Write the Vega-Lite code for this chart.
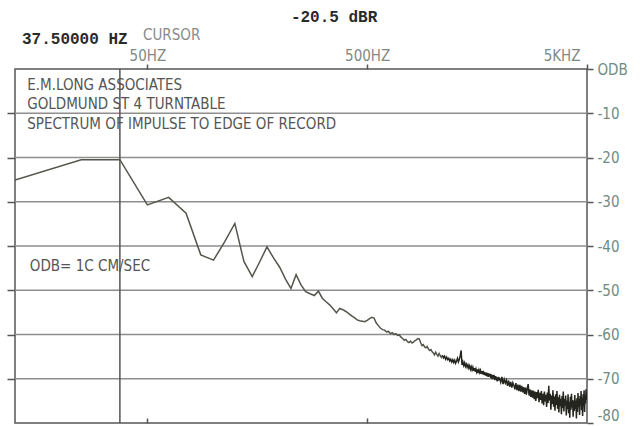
{
  "$schema": "https://vega.github.io/schema/vega-lite/v6.json",
  "width": 572,
  "height": 354,
  "autosize": "none",
  "padding": {"left": 15, "top": 69, "right": 53, "bottom": 3},
  "background": "white",
  "config": {"view": {"stroke": "#555555", "strokeWidth": 1.5}},
  "datasets": {
    "grid": [{"g": -10}, {"g": -20}, {"g": -30}, {"g": -40}, {"g": -50}, {"g": -60}, {"g": -70}],
    "cur": [{"c": 37.5}],
    "spec": [
      {"f": 12.5, "db": -25.1}, {"f": 25, "db": -20.5}, {"f": 37.5, "db": -20.5}, {"f": 50, "db": -30.7},
      {"f": 62.5, "db": -29.0}, {"f": 75, "db": -32.6}, {"f": 87.5, "db": -42.0}, {"f": 100, "db": -43.2},
      {"f": 112.5, "db": -39.0}, {"f": 125, "db": -34.9}, {"f": 137.5, "db": -43.5}, {"f": 150, "db": -46.9},
      {"f": 162.5, "db": -43.5}, {"f": 175, "db": -40.2}, {"f": 187.5, "db": -42.7}, {"f": 200, "db": -44.8},
      {"f": 212.5, "db": -47.5}, {"f": 225, "db": -49.6}, {"f": 237.5, "db": -46.5}, {"f": 250, "db": -48.8},
      {"f": 262.5, "db": -50.3}, {"f": 275, "db": -50.8}, {"f": 287.5, "db": -51.2}, {"f": 300, "db": -50.2},
      {"f": 312.5, "db": -51.8}, {"f": 325, "db": -52.6}, {"f": 337.5, "db": -53.3}, {"f": 350, "db": -54.2},
      {"f": 362.5, "db": -55.1}, {"f": 375, "db": -54.1}, {"f": 387.5, "db": -54.4}, {"f": 400, "db": -54.8},
      {"f": 412.5, "db": -55.3}, {"f": 425, "db": -55.8}, {"f": 437.5, "db": -56.2}, {"f": 450, "db": -56.7},
      {"f": 462.5, "db": -56.9}, {"f": 475, "db": -57.0}, {"f": 487.5, "db": -57.1}, {"f": 500, "db": -56.8},
      {"f": 512.5, "db": -56.4}, {"f": 525, "db": -56.1}, {"f": 537.5, "db": -56.3}, {"f": 550, "db": -57.4},
      {"f": 562.5, "db": -58.0}, {"f": 575, "db": -58.6}, {"f": 587.5, "db": -58.9}, {"f": 600, "db": -59.0},
      {"f": 612.5, "db": -59.4}, {"f": 625, "db": -59.3}, {"f": 637.5, "db": -59.8}, {"f": 650, "db": -59.6},
      {"f": 662.5, "db": -60.0}, {"f": 675, "db": -59.8}, {"f": 687.5, "db": -60.2}, {"f": 700, "db": -60.1},
      {"f": 712.5, "db": -60.6}, {"f": 725, "db": -60.9}, {"f": 737.5, "db": -61.3}, {"f": 750, "db": -61.1},
      {"f": 762.5, "db": -61.6}, {"f": 775, "db": -61.8}, {"f": 787.5, "db": -61.5}, {"f": 800, "db": -61.9},
      {"f": 812.5, "db": -61.7}, {"f": 825, "db": -61.4}, {"f": 837.5, "db": -61.2}, {"f": 850, "db": -60.9},
      {"f": 862.5, "db": -61.0}, {"f": 875, "db": -61.8}, {"f": 887.5, "db": -62.5}, {"f": 900, "db": -62.3},
      {"f": 912.5, "db": -62.8}, {"f": 925, "db": -63.0}, {"f": 937.5, "db": -62.7}, {"f": 950, "db": -63.3},
      {"f": 962.5, "db": -63.6}, {"f": 975, "db": -63.4}, {"f": 987.5, "db": -63.9}, {"f": 1000, "db": -64.2},
      {"f": 1012.5, "db": -64.6}, {"f": 1025, "db": -64.0}, {"f": 1037.5, "db": -64.5}, {"f": 1050, "db": -64.9},
      {"f": 1062.5, "db": -64.3}, {"f": 1075, "db": -64.8}, {"f": 1087.5, "db": -65.2}, {"f": 1100, "db": -64.7},
      {"f": 1112.5, "db": -65.3}, {"f": 1125, "db": -64.9}, {"f": 1137.5, "db": -65.6}, {"f": 1150, "db": -65.1},
      {"f": 1162.5, "db": -65.7}, {"f": 1175, "db": -65.4}, {"f": 1187.5, "db": -66.0}, {"f": 1200, "db": -65.6},
      {"f": 1212.5, "db": -66.2}, {"f": 1225, "db": -65.7}, {"f": 1237.5, "db": -66.3}, {"f": 1250, "db": -65.8},
      {"f": 1262.5, "db": -66.5}, {"f": 1275, "db": -66.0}, {"f": 1287.5, "db": -65.4}, {"f": 1300, "db": -66.2},
      {"f": 1312.5, "db": -65.6}, {"f": 1325, "db": -64.8}, {"f": 1337.5, "db": -63.6}, {"f": 1350, "db": -66.9},
      {"f": 1362.5, "db": -66.2}, {"f": 1375, "db": -67.0}, {"f": 1387.5, "db": -66.4}, {"f": 1400, "db": -67.2},
      {"f": 1412.5, "db": -66.7}, {"f": 1425, "db": -67.4}, {"f": 1437.5, "db": -66.9}, {"f": 1450, "db": -67.6},
      {"f": 1462.5, "db": -67.1}, {"f": 1475, "db": -67.9}, {"f": 1487.5, "db": -67.3}, {"f": 1500, "db": -68.0},
      {"f": 1512.5, "db": -67.4}, {"f": 1525, "db": -68.2}, {"f": 1537.5, "db": -67.6}, {"f": 1550, "db": -68.4},
      {"f": 1562.5, "db": -67.8}, {"f": 1575, "db": -68.5}, {"f": 1587.5, "db": -67.9}, {"f": 1600, "db": -68.7},
      {"f": 1612.5, "db": -68.0}, {"f": 1625, "db": -68.6}, {"f": 1637.5, "db": -68.1}, {"f": 1650, "db": -68.9},
      {"f": 1662.5, "db": -68.3}, {"f": 1675, "db": -69.0}, {"f": 1687.5, "db": -68.2}, {"f": 1700, "db": -69.1},
      {"f": 1712.5, "db": -68.5}, {"f": 1725, "db": -69.3}, {"f": 1737.5, "db": -68.6}, {"f": 1750, "db": -69.4},
      {"f": 1762.5, "db": -68.7}, {"f": 1775, "db": -69.6}, {"f": 1787.5, "db": -68.8}, {"f": 1800, "db": -69.5},
      {"f": 1812.5, "db": -68.9}, {"f": 1825, "db": -69.8}, {"f": 1837.5, "db": -69.0}, {"f": 1850, "db": -70.1},
      {"f": 1862.5, "db": -69.2}, {"f": 1875, "db": -69.9}, {"f": 1887.5, "db": -69.1}, {"f": 1900, "db": -70.3},
      {"f": 1912.5, "db": -69.4}, {"f": 1925, "db": -70.2}, {"f": 1937.5, "db": -69.5}, {"f": 1950, "db": -70.6},
      {"f": 1962.5, "db": -69.7}, {"f": 1975, "db": -70.4}, {"f": 1987.5, "db": -69.8}, {"f": 2000, "db": -69.9},
      {"f": 2025, "db": -70.8}, {"f": 2050, "db": -69.6}, {"f": 2075, "db": -71.2}, {"f": 2100, "db": -70.1},
      {"f": 2125, "db": -71.0}, {"f": 2150, "db": -70.3}, {"f": 2175, "db": -71.6}, {"f": 2200, "db": -70.4},
      {"f": 2225, "db": -71.8}, {"f": 2250, "db": -70.7}, {"f": 2275, "db": -72.0}, {"f": 2300, "db": -70.9},
      {"f": 2325, "db": -71.5}, {"f": 2350, "db": -72.4}, {"f": 2375, "db": -71.0}, {"f": 2400, "db": -72.6},
      {"f": 2425, "db": -71.3}, {"f": 2450, "db": -72.8}, {"f": 2475, "db": -71.4}, {"f": 2500, "db": -72.9},
      {"f": 2525, "db": -71.6}, {"f": 2550, "db": -73.1}, {"f": 2575, "db": -71.9}, {"f": 2600, "db": -73.4},
      {"f": 2625, "db": -72.0}, {"f": 2650, "db": -73.6}, {"f": 2675, "db": -72.2}, {"f": 2700, "db": -71.2},
      {"f": 2725, "db": -73.8}, {"f": 2750, "db": -72.4}, {"f": 2775, "db": -74.1}, {"f": 2800, "db": -72.6},
      {"f": 2825, "db": -74.3}, {"f": 2850, "db": -72.7}, {"f": 2875, "db": -74.6}, {"f": 2900, "db": -72.9},
      {"f": 2925, "db": -75.0}, {"f": 2950, "db": -73.0}, {"f": 2975, "db": -74.4}, {"f": 3000, "db": -72.5},
      {"f": 3025, "db": -75.3}, {"f": 3050, "db": -73.2}, {"f": 3075, "db": -74.8}, {"f": 3100, "db": -72.8},
      {"f": 3125, "db": -75.6}, {"f": 3150, "db": -73.4}, {"f": 3175, "db": -76.0}, {"f": 3200, "db": -72.9},
      {"f": 3225, "db": -75.1}, {"f": 3250, "db": -73.6}, {"f": 3275, "db": -76.4}, {"f": 3300, "db": -73.1},
      {"f": 3325, "db": -75.5}, {"f": 3350, "db": -71.6}, {"f": 3375, "db": -74.9}, {"f": 3400, "db": -73.4},
      {"f": 3425, "db": -77.0}, {"f": 3450, "db": -73.8}, {"f": 3475, "db": -75.7}, {"f": 3500, "db": -72.6},
      {"f": 3525, "db": -76.3}, {"f": 3550, "db": -74.0}, {"f": 3575, "db": -77.2}, {"f": 3600, "db": -73.5},
      {"f": 3625, "db": -75.9}, {"f": 3650, "db": -72.8}, {"f": 3675, "db": -76.8}, {"f": 3700, "db": -74.2},
      {"f": 3725, "db": -77.6}, {"f": 3750, "db": -73.6}, {"f": 3775, "db": -76.2}, {"f": 3800, "db": -74.5},
      {"f": 3825, "db": -78.0}, {"f": 3850, "db": -73.9}, {"f": 3875, "db": -76.6}, {"f": 3900, "db": -72.9},
      {"f": 3925, "db": -77.4}, {"f": 3950, "db": -74.6}, {"f": 3975, "db": -76.1}, {"f": 4000, "db": -73.8},
      {"f": 4025, "db": -78.3}, {"f": 4050, "db": -74.9}, {"f": 4075, "db": -76.9}, {"f": 4100, "db": -73.5},
      {"f": 4125, "db": -77.8}, {"f": 4150, "db": -75.2}, {"f": 4175, "db": -78.8}, {"f": 4200, "db": -74.1},
      {"f": 4225, "db": -77.0}, {"f": 4250, "db": -73.4}, {"f": 4275, "db": -76.5}, {"f": 4300, "db": -74.8},
      {"f": 4325, "db": -78.6}, {"f": 4350, "db": -75.0}, {"f": 4375, "db": -77.3}, {"f": 4400, "db": -73.7},
      {"f": 4425, "db": -76.8}, {"f": 4450, "db": -74.9}, {"f": 4475, "db": -79.0}, {"f": 4500, "db": -74.4},
      {"f": 4525, "db": -77.5}, {"f": 4550, "db": -73.2}, {"f": 4575, "db": -76.4}, {"f": 4600, "db": -74.6},
      {"f": 4625, "db": -78.2}, {"f": 4650, "db": -73.9}, {"f": 4675, "db": -76.0}, {"f": 4700, "db": -72.8},
      {"f": 4725, "db": -77.1}, {"f": 4750, "db": -74.3}, {"f": 4775, "db": -78.4}, {"f": 4800, "db": -73.5},
      {"f": 4825, "db": -76.2}, {"f": 4850, "db": -72.6}, {"f": 4875, "db": -77.5}, {"f": 4900, "db": -73.8},
      {"f": 4925, "db": -75.6}, {"f": 4950, "db": -72.4}, {"f": 4975, "db": -74.8}, {"f": 5000, "db": -72.9}
    ]
  },
  "resolve": {"axis": {"x": "independent", "y": "independent"}},
  "layer": [
    {
      "data": {"name": "grid"},
      "mark": {"type": "rule", "color": "#8e8e8e", "strokeWidth": 1.5},
      "encoding": {
        "y": {"field": "g", "type": "quantitative", "scale": {"domain": [-80, 0], "nice": false},
          "axis": {"orient": "left", "values": [-10, -20, -30, -40, -50, -60, -70], "labels": false, "domain": false, "grid": false, "ticks": true, "tickSize": 8, "tickColor": "#555555", "tickWidth": 1.5, "title": null}}
      }
    },
    {
      "data": {"name": "cur"},
      "mark": {"type": "rule", "color": "#555555", "strokeWidth": 1.5},
      "encoding": {
        "x": {"field": "c", "type": "quantitative", "scale": {"type": "log", "domain": [12.5, 5000], "nice": false},
          "axis": {"orient": "bottom", "values": [50, 500], "labels": false, "domain": false, "grid": false, "tickSize": -5, "tickColor": "#555555", "tickWidth": 1.5, "title": null}}
      }
    },
    {
      "data": {"name": "spec"},
      "transform": [{"filter": "datum.f <= 1100"}],
      "mark": {"type": "line", "color": "#55554d", "strokeWidth": 1.5, "clip": true},
      "encoding": {
        "x": {"field": "f", "type": "quantitative", "scale": {"type": "log", "domain": [12.5, 5000], "nice": false},
          "axis": {"orient": "top", "values": [50, 500, 5000], "labelExpr": "datum.value == 50 ? '50HZ' : datum.value == 500 ? '500HZ' : '5KHZ'", "domain": false, "grid": false, "tickSize": 5, "tickColor": "#555555", "tickWidth": 1.5, "labelPadding": 1, "labelFlush": true, "labelFlushOffset": -7, "labelFont": "DejaVu Sans Condensed, Liberation Sans Narrow, sans-serif", "labelFontSize": 15, "labelColor": "#7f8a84", "title": null}},
        "y": {"field": "db", "type": "quantitative", "scale": {"domain": [-80, 0], "nice": false},
          "axis": {"orient": "right", "values": [0, -10, -20, -30, -40, -50, -60, -70, -80], "labelExpr": "datum.value == 0 ? 'ODB' : '' + datum.value", "domain": false, "grid": false, "tickSize": 6, "tickColor": "#555555", "tickWidth": 1.5, "labelPadding": 4, "labelFont": "DejaVu Sans Condensed, Liberation Sans Narrow, sans-serif", "labelFontSize": 15, "labelColor": "#6d8c84", "labelBaseline": {"condition": {"test": "datum.value == -80", "value": "bottom"}, "value": "middle"}, "title": null}}
      }
    },
    {
      "data": {"name": "spec"},
      "transform": [{"filter": "datum.f >= 1100"}],
      "mark": {"type": "line", "color": "#25251f", "strokeWidth": 1.5, "clip": true},
      "encoding": {
        "x": {"field": "f", "type": "quantitative", "scale": {"type": "log", "domain": [12.5, 5000], "nice": false}, "axis": null},
        "y": {"field": "db", "type": "quantitative", "scale": {"domain": [-80, 0], "nice": false}, "axis": null}
      }
    },
    {
      "data": {"values": [{}]},
      "mark": {"type": "text", "align": "left", "baseline": "middle", "font": "Liberation Mono, DejaVu Sans Mono, monospace", "fontSize": 16, "fontWeight": "bold", "color": "#2a2a2a"},
      "encoding": {
        "x": {"datum": 13.45, "type": "quantitative", "scale": {"type": "log", "domain": [12.5, 5000], "nice": false}, "axis": null},
        "y": {"datum": 6.8, "type": "quantitative", "scale": {"domain": [-80, 0], "nice": false}, "axis": null},
        "text": {"value": "37.50000 HZ"}
      }
    },
    {
      "data": {"values": [{}]},
      "mark": {"type": "text", "align": "center", "baseline": "middle", "font": "Liberation Mono, DejaVu Sans Mono, monospace", "fontSize": 16, "fontWeight": "bold", "color": "#2a2a2a"},
      "encoding": {
        "x": {"datum": 353.6, "type": "quantitative", "scale": {"type": "log", "domain": [12.5, 5000], "nice": false}, "axis": null},
        "y": {"datum": 11.75, "type": "quantitative", "scale": {"domain": [-80, 0], "nice": false}, "axis": null},
        "text": {"value": "-20.5 dBR"}
      }
    },
    {
      "data": {"values": [{}]},
      "mark": {"type": "text", "align": "left", "baseline": "middle", "font": "DejaVu Sans Condensed, Liberation Sans Narrow, sans-serif", "fontSize": 15, "color": "#8a8a8a"},
      "encoding": {
        "x": {"datum": 47.8, "type": "quantitative", "scale": {"type": "log", "domain": [12.5, 5000], "nice": false}, "axis": null},
        "y": {"datum": 7.7, "type": "quantitative", "scale": {"domain": [-80, 0], "nice": false}, "axis": null},
        "text": {"value": "CURSOR"}
      }
    },
    {
      "data": {"values": [{}]},
      "mark": {"type": "text", "align": "left", "baseline": "middle", "font": "DejaVu Sans Condensed, Liberation Sans Narrow, sans-serif", "fontSize": 15, "color": "#555555"},
      "encoding": {
        "x": {"datum": 14.2, "type": "quantitative", "scale": {"type": "log", "domain": [12.5, 5000], "nice": false}, "axis": null},
        "y": {"datum": -3.6, "type": "quantitative", "scale": {"domain": [-80, 0], "nice": false}, "axis": null},
        "text": {"value": "E.M.LONG ASSOCIATES"}
      }
    },
    {
      "data": {"values": [{}]},
      "mark": {"type": "text", "align": "left", "baseline": "middle", "font": "DejaVu Sans Condensed, Liberation Sans Narrow, sans-serif", "fontSize": 15, "color": "#555555"},
      "encoding": {
        "x": {"datum": 14.2, "type": "quantitative", "scale": {"type": "log", "domain": [12.5, 5000], "nice": false}, "axis": null},
        "y": {"datum": -7.9, "type": "quantitative", "scale": {"domain": [-80, 0], "nice": false}, "axis": null},
        "text": {"value": "GOLDMUND ST 4 TURNTABLE"}
      }
    },
    {
      "data": {"values": [{}]},
      "mark": {"type": "text", "align": "left", "baseline": "middle", "font": "DejaVu Sans Condensed, Liberation Sans Narrow, sans-serif", "fontSize": 15, "color": "#555555"},
      "encoding": {
        "x": {"datum": 14.2, "type": "quantitative", "scale": {"type": "log", "domain": [12.5, 5000], "nice": false}, "axis": null},
        "y": {"datum": -12.4, "type": "quantitative", "scale": {"domain": [-80, 0], "nice": false}, "axis": null},
        "text": {"value": "SPECTRUM OF IMPULSE TO EDGE OF RECORD"}
      }
    },
    {
      "data": {"values": [{}]},
      "mark": {"type": "text", "align": "left", "baseline": "middle", "font": "DejaVu Sans Condensed, Liberation Sans Narrow, sans-serif", "fontSize": 15, "color": "#555555"},
      "encoding": {
        "x": {"datum": 14.6, "type": "quantitative", "scale": {"type": "log", "domain": [12.5, 5000], "nice": false}, "axis": null},
        "y": {"datum": -44.5, "type": "quantitative", "scale": {"domain": [-80, 0], "nice": false}, "axis": null},
        "text": {"value": "ODB= 1C CM/SEC"}
      }
    }
  ]
}
